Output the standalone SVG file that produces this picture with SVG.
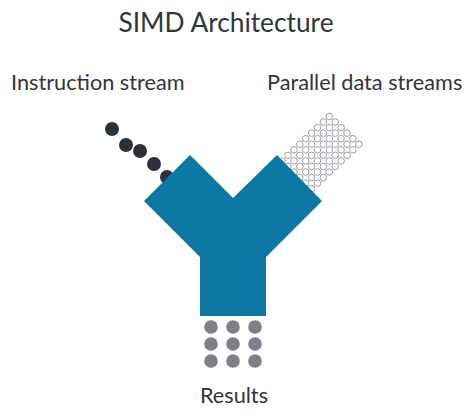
<svg xmlns="http://www.w3.org/2000/svg" width="474" height="418" viewBox="0 0 474 418">
<style>
text{font-family:Lato,"Liberation Sans",sans-serif;fill:#2f353d}
.title{font-size:26.3px}
.lbl{font-size:21.7px}
.ins{fill:#2b323c}
.res{fill:#7c8088}
.dat circle{fill:none;stroke:#9a9ea4;stroke-width:1}
.core{fill:#0b77a2}
</style>
<rect width="474" height="418" fill="#ffffff"/>
<g id="title">
<text class="title" x="226" y="32" text-anchor="middle">SIMD Architecture</text>
</g>
<g id="instruction-stream">
<text class="lbl" x="11" y="90">Instruction stream</text>
<circle class="ins" cx="112" cy="129" r="7"/>
<circle class="ins" cx="126" cy="145" r="7"/>
<circle class="ins" cx="140" cy="151" r="7"/>
<circle class="ins" cx="154" cy="164" r="7"/>
<circle class="ins" cx="167" cy="177" r="7"/>
</g>
<g id="data-streams">
<text class="lbl" x="267" y="90">Parallel data streams</text>
<g class="dat">
<circle cx="329.3" cy="116.5" r="3.3"/><circle cx="323.4" cy="122.05" r="3.3"/><circle cx="317.5" cy="127.6" r="3.3"/><circle cx="311.6" cy="133.15" r="3.3"/><circle cx="305.7" cy="138.7" r="3.3"/><circle cx="299.8" cy="144.25" r="3.3"/><circle cx="293.9" cy="149.8" r="3.3"/><circle cx="288" cy="155.35" r="3.3"/><circle cx="282.1" cy="160.9" r="3.3"/>
<circle cx="335.2" cy="122.05" r="3.3"/><circle cx="329.3" cy="127.6" r="3.3"/><circle cx="323.4" cy="133.15" r="3.3"/><circle cx="317.5" cy="138.7" r="3.3"/><circle cx="311.6" cy="144.25" r="3.3"/><circle cx="305.7" cy="149.8" r="3.3"/><circle cx="299.8" cy="155.35" r="3.3"/><circle cx="293.9" cy="160.9" r="3.3"/><circle cx="288" cy="166.45" r="3.3"/>
<circle cx="341.1" cy="127.6" r="3.3"/><circle cx="335.2" cy="133.15" r="3.3"/><circle cx="329.3" cy="138.7" r="3.3"/><circle cx="323.4" cy="144.25" r="3.3"/><circle cx="317.5" cy="149.8" r="3.3"/><circle cx="311.6" cy="155.35" r="3.3"/><circle cx="305.7" cy="160.9" r="3.3"/><circle cx="299.8" cy="166.45" r="3.3"/><circle cx="293.9" cy="172" r="3.3"/>
<circle cx="347" cy="133.15" r="3.3"/><circle cx="341.1" cy="138.7" r="3.3"/><circle cx="335.2" cy="144.25" r="3.3"/><circle cx="329.3" cy="149.8" r="3.3"/><circle cx="323.4" cy="155.35" r="3.3"/><circle cx="317.5" cy="160.9" r="3.3"/><circle cx="311.6" cy="166.45" r="3.3"/><circle cx="305.7" cy="172" r="3.3"/><circle cx="299.8" cy="177.55" r="3.3"/>
<circle cx="352.9" cy="138.7" r="3.3"/><circle cx="347" cy="144.25" r="3.3"/><circle cx="341.1" cy="149.8" r="3.3"/><circle cx="335.2" cy="155.35" r="3.3"/><circle cx="329.3" cy="160.9" r="3.3"/><circle cx="323.4" cy="166.45" r="3.3"/><circle cx="317.5" cy="172" r="3.3"/><circle cx="311.6" cy="177.55" r="3.3"/><circle cx="305.7" cy="183.1" r="3.3"/>
<circle cx="358.8" cy="144.25" r="3.3"/><circle cx="352.9" cy="149.8" r="3.3"/><circle cx="347" cy="155.35" r="3.3"/><circle cx="341.1" cy="160.9" r="3.3"/><circle cx="335.2" cy="166.45" r="3.3"/><circle cx="329.3" cy="172" r="3.3"/><circle cx="323.4" cy="177.55" r="3.3"/><circle cx="317.5" cy="183.1" r="3.3"/><circle cx="311.6" cy="188.65" r="3.3"/>
</g>
</g>
<g id="simd-unit">
<polygon class="core" points="200,316 200,257 144,201 190,155 233,198 277,155 322,201 266,257 266,316"/>
</g>
<g id="results">
<circle class="res" cx="211" cy="327" r="6.8"/><circle class="res" cx="233" cy="327" r="6.8"/><circle class="res" cx="255" cy="327" r="6.8"/>
<circle class="res" cx="211" cy="344" r="6.8"/><circle class="res" cx="233" cy="344" r="6.8"/><circle class="res" cx="255" cy="344" r="6.8"/>
<circle class="res" cx="211" cy="361" r="6.8"/><circle class="res" cx="233" cy="361" r="6.8"/><circle class="res" cx="255" cy="361" r="6.8"/>
<text class="lbl" x="234" y="403" text-anchor="middle">Results</text>
</g>
</svg>
